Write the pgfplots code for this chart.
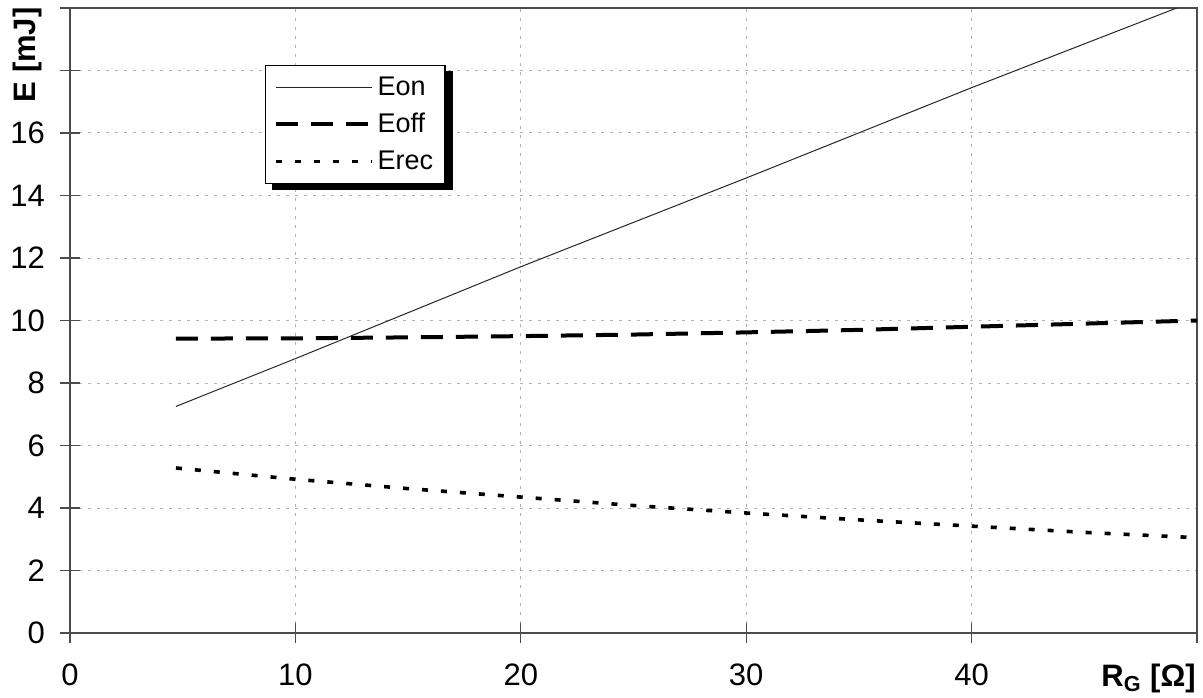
\documentclass[border=0pt]{standalone}
\usepackage{fontspec}
\setmainfont{Liberation Sans}
\usepackage{pgfplots}
\pgfplotsset{compat=1.18}
\begin{document}
\begin{tikzpicture}
\begin{axis}[
  width=563.5pt, height=312.5pt, scale only axis,
  xmin=0, xmax=50, ymin=0, ymax=20,
  xtick={0,10,20,30,40,50}, xticklabels={0,10,20,30,40,{}},
  ytick={0,2,...,20}, yticklabels={0,2,4,6,8,10,12,14,16,{},{}},
  tick pos=left, tick align=center, major tick length=10pt,
  tick style={black!70, line width=0.6pt},
  axis line style={black!70, line width=0.8pt},
  grid=major,
  grid style={gray!60, line width=0.5pt, dash pattern=on 1.5pt off 3pt},
  ticklabel style={font=\fontsize{15.5}{18}\selectfont},
  /pgf/number format/assume math mode=true,
  yticklabel style={xshift=-4pt},
  xticklabel style={yshift=-7pt},
  xlabel={\textbf{R\textsubscript{G} [Ω]}},
  xlabel style={font=\fontsize{15.5}{18}\selectfont, at={(axis description cs:0.957,-0.072)}, anchor=center},
  ylabel={\textbf{E [mJ]}},
  ylabel style={font=\fontsize{15.5}{18}\selectfont, at={(axis description cs:-0.0377,0.925)}, anchor=center},
  legend style={at={(axis description cs:0.173,0.909)}, anchor=north west,
    draw=black, line width=0.6pt, fill=white,
    font=\fontsize{13.5}{16}\selectfont,
    inner xsep=4pt, inner ysep=3.5pt, row sep=3.5pt, name=leg,
    nodes={inner sep=2pt}},
  legend cell align=left,
  legend image code/.code={\draw[#1] (0pt,0pt) -- (48pt,0pt);},
]
\addplot[black!85, line width=0.5pt] coordinates {
  (4.7,7.25) (10,8.78) (20,11.72) (30,14.56) (40,17.45) (49.1,20.0) };
\addlegendentry{Eon}
\addplot[black, line width=2pt, dash pattern=on 11pt off 6.5pt] coordinates {
  (4.7,9.42) (10,9.43) (15,9.46) (20,9.5) (25,9.55) (30,9.62) (35,9.7) (40,9.8) (45,9.9) (50,10.0) };
\addlegendentry{Eoff}
\addplot[black, line width=1.8pt, dash pattern=on 3pt off 6.5pt] coordinates {
  (4.7,5.28) (10,4.92) (15,4.62) (20,4.35) (25,4.08) (30,3.84) (35,3.62) (40,3.42) (45,3.22) (50,3.05) };
\addlegendentry{Erec}
\coordinate (bl) at (rel axis cs:0,0);
\coordinate (tr) at (rel axis cs:1,1);
\end{axis}
% legend drop shadow (right and bottom strips)
\fill[black] ([shift={(0.3pt,-3pt)}]leg.north east) rectangle ([shift={(3.8pt,-3.3pt)}]leg.south east);
\fill[black] ([shift={(3.5pt,-0.3pt)}]leg.south west) rectangle ([shift={(3.8pt,-3.3pt)}]leg.south east);
\pgfresetboundingbox
\path[use as bounding box] ([shift={(-35pt,-32pt)}]bl) rectangle ([shift={(3pt,4pt)}]tr);
\end{tikzpicture}
\end{document}
